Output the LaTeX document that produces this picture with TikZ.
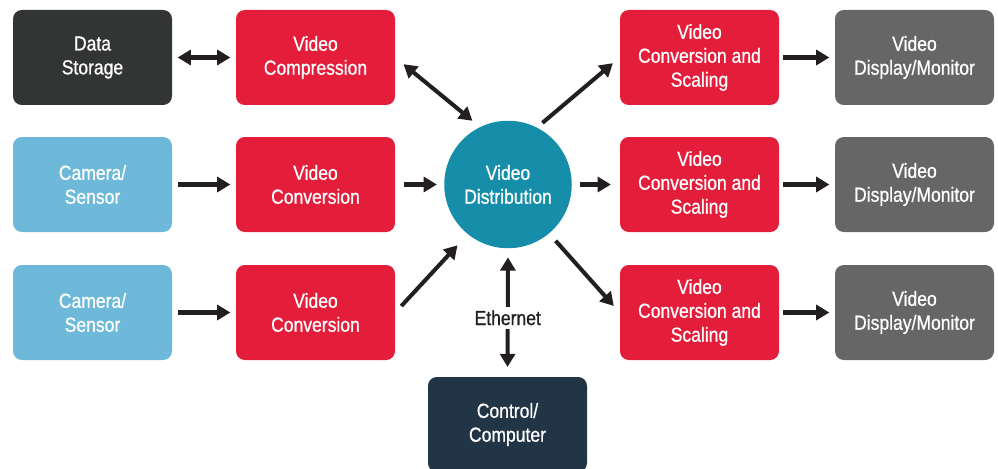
\documentclass[tikz,border=0pt]{standalone}
\usepackage{fontspec}
\setmainfont{Liberation Sans}[FakeStretch=0.86, FakeBold=0.8]
\usetikzlibrary{positioning, arrows.meta, shapes.geometric}

\definecolor{storagegray}{HTML}{333535}
\definecolor{videored}{HTML}{E31D3A}
\definecolor{camblue}{HTML}{6EB9DA}
\definecolor{distteal}{HTML}{178EA9}
\definecolor{monitorgray}{HTML}{666666}
\definecolor{ctrlnavy}{HTML}{213547}
\definecolor{arrowblack}{HTML}{231F20}

\begin{document}
\begin{tikzpicture}[
    box/.style={rectangle, rounded corners=5pt, minimum width=3.18cm, minimum height=1.9cm,
        text=white, align=center, font=\fontsize{11.6}{13.6}\selectfont},
    flow/.style={draw=arrowblack, line width=2.3pt, -{Triangle[length=7.5pt,width=8.5pt]}},
    both/.style={flow, {Triangle[length=7.5pt,width=8.5pt]}-{Triangle[length=7.5pt,width=8.5pt]}}
  ]
    \useasboundingbox (0,0) rectangle (19.96,-9.38);

    % sources on the left
    \node [box, fill=storagegray] (storage) at (1.85,-1.15) {Data\\Storage};
    \node [box, fill=camblue] (cam1) at (1.85,-3.69) {Camera/\\Sensor};
    \node [box, fill=camblue] (cam2) at (1.85,-6.25) {Camera/\\Sensor};
    \node [box, fill=videored] (compress) at (6.31,-1.15) {Video\\Compression};
    \node [box, fill=videored] (conv1) at (6.31,-3.69) {Video\\Conversion};
    \node [box, fill=videored] (conv2) at (6.31,-6.25) {Video\\Conversion};

    % hub
    \node [circle, fill=distteal, minimum size=2.55cm, inner sep=0pt, text=white, align=center,
        font=\fontsize{11.6}{13.6}\selectfont] (dist) at (10.16,-3.69) {Video\\Distribution};
    \node [box, fill=ctrlnavy] (ctrl) at (10.15,-8.49) {Control/\\Computer};

    % outputs on the right
    \node [box, fill=videored] (scale1) at (13.99,-1.15) {Video\\Conversion and\\Scaling};
    \node [box, fill=videored] (scale2) at (13.99,-3.69) {Video\\Conversion and\\Scaling};
    \node [box, fill=videored] (scale3) at (13.99,-6.25) {Video\\Conversion and\\Scaling};
    \node [box, fill=monitorgray] (mon1) at (18.29,-1.15) {Video\\Display/Monitor};
    \node [box, fill=monitorgray] (mon2) at (18.29,-3.69) {Video\\Display/Monitor};
    \node [box, fill=monitorgray] (mon3) at (18.29,-6.25) {Video\\Display/Monitor};

    \draw [both, shorten <=3pt, shorten >=3pt] (storage) -- (compress);
    \draw [flow, shorten <=3pt, shorten >=3pt] (cam1) -- (conv1);
    \draw [flow, shorten <=3pt, shorten >=3pt] (cam2) -- (conv2);

    \draw [both, shorten <=6pt, shorten >=5.5pt] (compress.east) -- (dist.116);
    \draw [flow, shorten <=5pt, shorten >=4pt] (conv1) -- (dist);
    \draw [flow, shorten <=5pt, shorten >=8.5pt] (conv2.east) -- (dist.231);

    \draw [flow, shorten <=4pt, shorten >=5pt] (dist.63) -- (scale1.west);
    \draw [flow, shorten <=4.5pt, shorten >=5pt] (dist) -- (scale2);
    \draw [flow, shorten <=5.5pt, shorten >=5pt] (dist.-50) -- (scale3.west);

    \draw [flow, shorten <=2pt, shorten >=3pt] (scale1) -- (mon1);
    \draw [flow, shorten <=2pt, shorten >=3pt] (scale2) -- (mon2);
    \draw [flow, shorten <=2pt, shorten >=3pt] (scale3) -- (mon3);

    \draw [both, shorten <=5pt, shorten >=5.5pt] (dist.south) -- (ctrl.north)
        node [pos=0.54, fill=white, text=arrowblack, inner sep=2pt,
            font=\fontsize{11.6}{13.6}\selectfont] (eth) {Ethernet};
\end{tikzpicture}
\end{document}
